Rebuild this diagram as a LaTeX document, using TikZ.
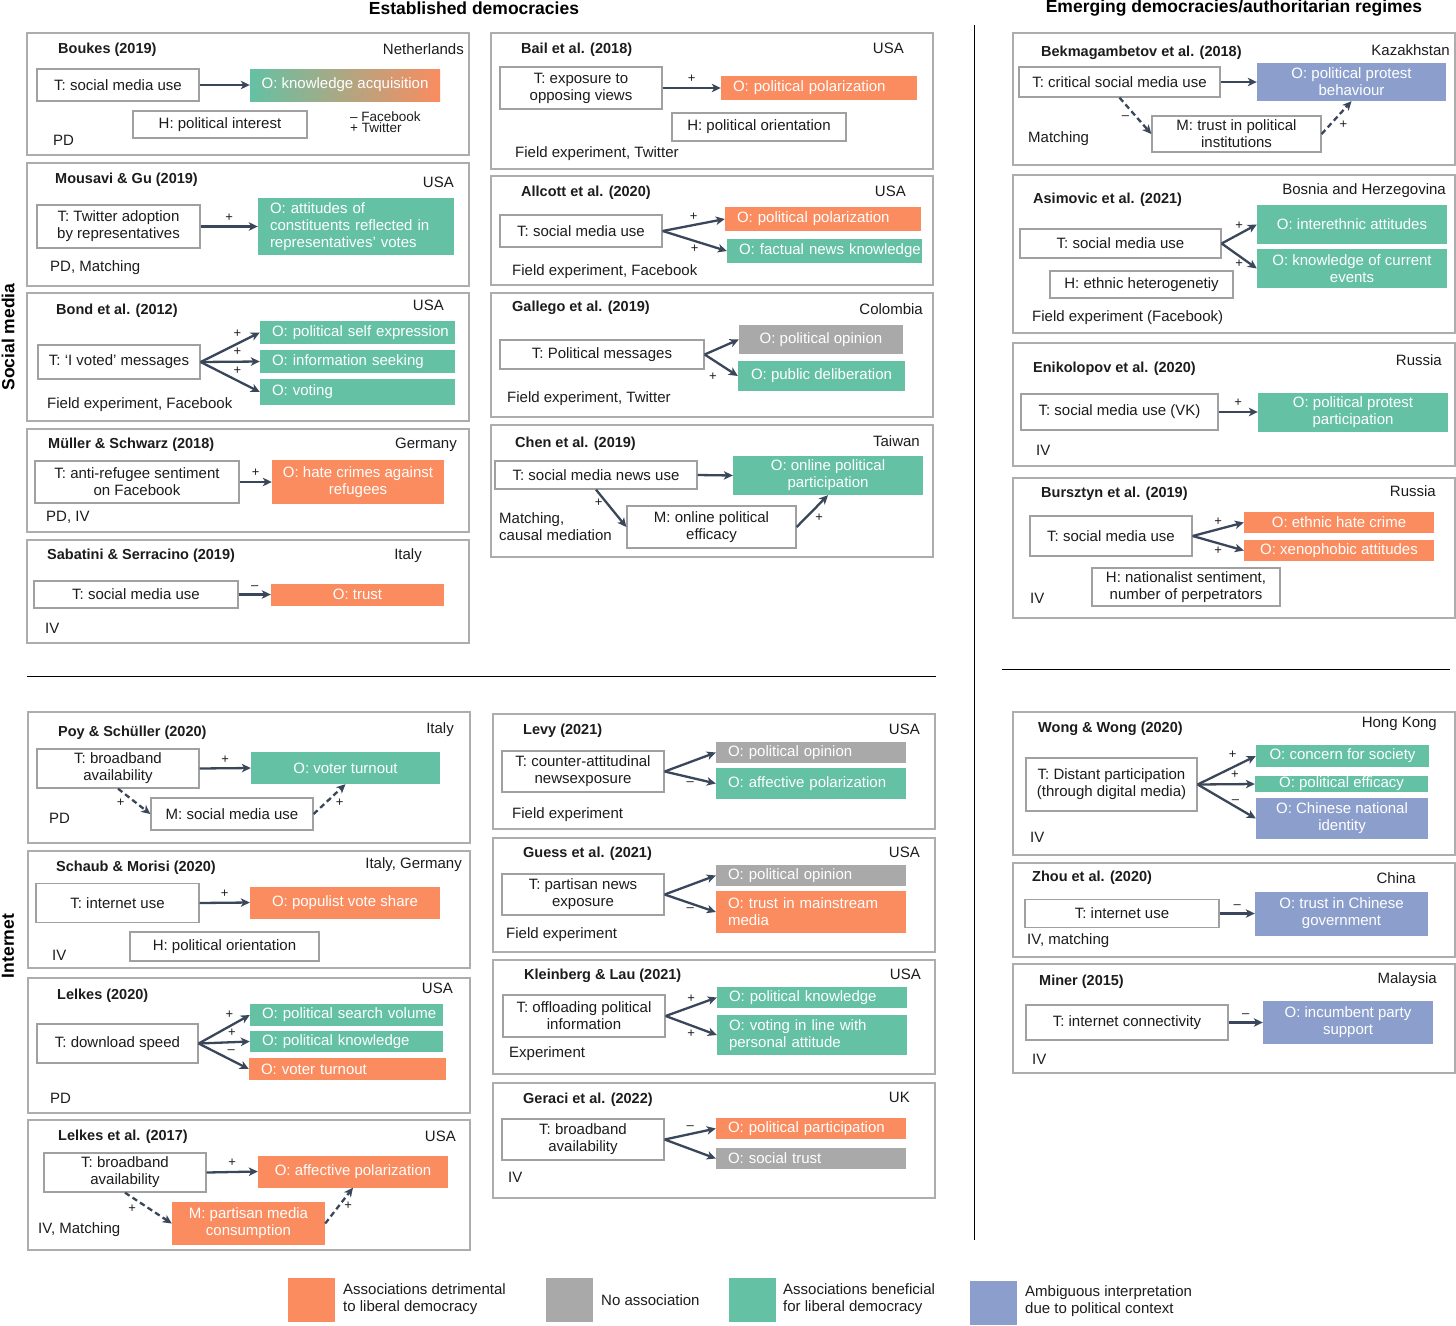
\documentclass[tikz,border=0pt]{standalone}
\usepackage{fontspec}
\setmainfont{Liberation Sans}
\usetikzlibrary{arrows.meta}

\definecolor{detrcol}{HTML}{FA8C60}
\definecolor{benecol}{HTML}{64C1A4}
\definecolor{ambicol}{HTML}{8C9FCC}
\definecolor{noascol}{HTML}{A9A9A9}
\definecolor{arrcol}{HTML}{3A4659}
\definecolor{panelgray}{HTML}{ADADAD}
\definecolor{boxgray}{HTML}{A0A0A0}
\definecolor{ink}{HTML}{1C1C1C}

\newcommand{\figfont}{\fontsize{15}{17}\selectfont}
\newcommand{\figbold}{\fontsize{14.5}{17}\selectfont\bfseries}
\newcommand{\headfont}{\fontsize{17.5}{19}\selectfont\bfseries}
\newcommand{\signfont}{\fontsize{13}{13}\selectfont}
\newcommand{\smallfig}{\fontsize{13.5}{11.5}\selectfont}

\begin{document}
\begin{tikzpicture}[x=1pt, y=-1pt, font=\figfont, text=ink,
  panel/.style={draw=panelgray, line width=1.4pt},
  rule/.style={draw=black, line width=1pt},
  head/.style={font=\headfont, text=black, inner sep=0pt},
  tbox/.style={draw=boxgray, line width=1.3pt, fill=white, align=center, inner sep=1pt},
  obox/.style={text=white, align=center, inner sep=0pt},
  detr/.style={obox, fill=detrcol},
  noas/.style={obox, fill=noascol},
  bene/.style={obox, fill=benecol},
  ambi/.style={obox, fill=ambicol},
  lft/.style={align=left, inner xsep=2pt, text width=#1,
    execute at begin node={\leftskip=10pt}},
  ttl/.style={font=\figbold, anchor=west, inner sep=0pt},
  ctry/.style={anchor=east, inner sep=0pt},
  meth/.style={anchor=west, inner sep=0pt, align=left},
  sgn/.style={font=\signfont, inner sep=1pt},
  key/.style={minimum width=47, minimum height=44, inner sep=0pt},
  arr/.style={draw=arrcol, line width=2.3pt, -{Stealth[length=9pt, width=8.5pt, inset=2.5pt]}},
  darr/.style={arr, dash pattern=on 5.5pt off 3.5pt}]

  \useasboundingbox (0,0) rectangle (1456,1325);

  % headers and section labels
  \node[head] (hdEst) at (474,8) {Established democracies};
  \node[head] (hdEmg) at (1234,8) {Emerging democracies/authoritarian regimes};
  \node[head, rotate=90] (secSM) at (8,337) {Social media};
  \node[head, rotate=90] (secNet) at (8,946) {Internet};
  \draw[rule] (974,25) -- (974,1240);
  \draw[rule] (27,676) -- (936,676);
  \draw[rule] (1002,669) -- (1450,669);

  % Boukes (2019)
  \draw[panel] (27,33) rectangle (469,155);
  \node[ttl] (bouN) at (58,50) {Boukes (2019)};
  \node[ctry] (bouC) at (464,49) {Netherlands};
  \node[tbox, minimum width=162, minimum height=32] (bouT) at (118,85) {T: social media use};
  \node[obox, left color=benecol, right color=detrcol, minimum width=190, minimum height=32] (bouO) at (345,85) {O: knowledge acquisition};
  \node[tbox, minimum width=174, minimum height=27] (bouH) at (220,124.5) {H: political interest};
  \node[meth, font=\smallfig] (bouP) at (350,122) {–~Facebook\\+~Twitter};
  \node[meth] (bouM) at (53,140) {PD};
  \path (bouT.east) edge[arr] (bouO.west);

  % Mousavi & Gu (2019)
  \draw[panel] (27,163) rectangle (469,286);
  \node[ttl] (mouN) at (55,180) {Mousavi \& Gu (2019)};
  \node[ctry] (mouC) at (454,182) {USA};
  \node[tbox, minimum width=163, minimum height=43] (mouT) at (118.5,226.5) {T: Twitter adoption\\by representatives};
  \node[bene, lft=192pt, minimum height=57] (mouO) at (356,226.5) {O: attitudes of\\constituents reflected in\\representatives’ votes};
  \node[meth] (mouM) at (50,268) {PD, Matching};
  \path (mouT.east) edge[arr] node[sgn, above=3pt] {+} (mouO.west);

  % Bond et al. (2012)
  \draw[panel] (27,293) rectangle (469,421);
  \node[ttl] (bonN) at (56,311) {Bond et al. (2012)};
  \node[ctry] (bonC) at (444,305) {USA};
  \node[tbox, minimum width=162, minimum height=34] (bonT) at (119,362) {T: ‘I voted’ messages};
  \node[bene, lft=191pt, minimum height=23] (bonO1) at (357.5,332.5) {\mbox{O: political self expression}};
  \node[bene, lft=191pt, minimum height=23] (bonO2) at (357.5,361.5) {O: information seeking};
  \node[bene, lft=191pt, minimum height=26] (bonO3) at (357.5,392) {O: voting};
  \node[meth] (bonM) at (47,405) {Field experiment, Facebook};
  \path (bonT.east) edge[arr] node[sgn, above=4pt, pos=.62] {+} (bonO1.west)
        (bonT.east) edge[arr] node[sgn, above=4pt, pos=.62] {+} (bonO2.west)
        (bonT.east) edge[arr] node[sgn, above=4pt, pos=.62] {+} (bonO3.west);

  % Mueller & Schwarz (2018)
  \draw[panel] (27,429) rectangle (469,532);
  \node[ttl] (mulN) at (48,445) {Müller \& Schwarz (2018)};
  \node[ctry] (mulC) at (457,445) {Germany};
  \node[tbox, minimum width=204, minimum height=42] (mulT) at (137,482) {T: anti-refugee sentiment\\on Facebook};
  \node[detr, minimum width=172, minimum height=44] (mulO) at (358,482) {O: hate crimes against\\refugees};
  \node[meth] (mulM) at (46,517) {PD, IV};
  \path (mulT.east) edge[arr] node[sgn, above=3pt] {+} (mulO.west);

  % Sabatini & Serracino (2019)
  \draw[panel] (27,540) rectangle (469,643);
  \node[ttl] (sabN) at (47,556) {Sabatini \& Serracino (2019)};
  \node[ctry] (sabC) at (422,556) {Italy};
  \node[tbox, minimum width=204, minimum height=27] (sabT) at (136,594.5) {T: social media use};
  \node[detr, minimum width=173, minimum height=22] (sabO) at (357.5,594.5) {O: trust};
  \node[meth] (sabM) at (45,628) {IV};
  \path (sabT.east) edge[arr] node[sgn, above=3pt] {–} (sabO.west);

  % Bail et al. (2018)
  \draw[panel] (491,33) rectangle (933,169);
  \node[ttl] (baiN) at (521,50) {Bail et al. (2018)};
  \node[ctry] (baiC) at (904,48) {USA};
  \node[tbox, minimum width=162, minimum height=42] (baiT) at (581,88) {T: exposure to\\opposing views};
  \node[detr, lft=192pt, minimum height=24] (baiO) at (819,88) {O: political polarization};
  \node[tbox, minimum width=174, minimum height=28] (baiH) at (759,127) {H: political orientation};
  \node[meth] (baiM) at (515,154) {Field experiment, Twitter};
  \path (baiT.east) edge[arr] node[sgn, above=3pt] {+} (baiO.west);

  % Allcott et al. (2020)
  \draw[panel] (491,176) rectangle (933,285);
  \node[ttl] (allN) at (521,193) {Allcott et al. (2020)};
  \node[ctry] (allC) at (906,191) {USA};
  \node[tbox, minimum width=162, minimum height=32] (allT) at (581,231) {T: social media use};
  \node[detr, lft=192pt, minimum height=24] (allO1) at (823,219) {O: political polarization};
  \node[bene, lft=191pt, minimum height=24] (allO2) at (824.5,251) {\mbox{O: factual news knowledge}};
  \node[meth] (allM) at (512,272) {Field experiment, Facebook};
  \path (allT.east) edge[arr] node[sgn, above=2pt] {+} (allO1.west)
        (allT.east) edge[arr] node[sgn, below=2pt] {+} (allO2.west);

  % Gallego et al. (2019)
  \draw[panel] (491,293) rectangle (933,417);
  \node[ttl] (galN) at (512,308) {Gallego et al. (2019)};
  \node[ctry] (galC) at (923,309) {Colombia};
  \node[tbox, minimum width=204, minimum height=29] (galT) at (602,354.5) {T: Political messages};
  \node[noas, minimum width=164, minimum height=29] (galO1) at (821,339.5) {O: political opinion};
  \node[bene, minimum width=167, minimum height=30] (galO2) at (821.5,376) {O: public deliberation};
  \node[meth] (galM) at (507,399) {Field experiment, Twitter};
  \path (galT.east) edge[arr] (galO1.west)
        (galT.east) edge[arr] node[sgn, below=11pt, pos=.25] {+} (galO2.west);

  % Chen et al. (2019)
  \draw[panel] (491,425) rectangle (933,557);
  \node[ttl] (cheN) at (515,444) {Chen et al. (2019)};
  \node[ctry] (cheC) at (920,441) {Taiwan};
  \node[tbox, minimum width=202, minimum height=28] (cheT) at (596,475) {T: social media news use};
  \node[bene, minimum width=190, minimum height=39] (cheO) at (828,475.5) {O: online political\\participation};
  \node[tbox, minimum width=169, minimum height=42] (cheMd) at (711.5,527) {M: online political\\efficacy};
  \node[meth] (cheM) at (499,526.5) {Matching,\\causal mediation};
  \path (cheT.east) edge[arr] (cheO.west)
        (cheT.south) edge[arr] node[sgn, left=2pt, pos=.35] {+} (cheMd.west)
        (cheMd.east) edge[arr] node[sgn, below right=1pt, pos=.5] {+} (cheO.south);

  % Bekmagambetov et al. (2018)
  \draw[panel] (1013,33) rectangle (1455,165);
  \node[ttl] (bekN) at (1041,53) {Bekmagambetov et al. (2018)};
  \node[ctry] (bekC) at (1450,50) {Kazakhstan};
  \node[tbox, minimum width=201, minimum height=30] (bekT) at (1119.5,82) {T: critical social media use};
  \node[ambi, minimum width=189, minimum height=38] (bekO) at (1351.5,82) {O: political protest\\behaviour};
  \node[tbox, minimum width=169, minimum height=36] (bekMd) at (1236.5,134) {M: trust in political\\institutions};
  \node[meth] (bekM) at (1028,139) {Matching};
  \path (bekT.east) edge[arr] (bekO.west)
        (bekT.south) edge[darr] node[sgn, below left=1pt, pos=.4] {–} (bekMd.west)
        (bekMd.east) edge[darr] node[sgn, below right=1pt, pos=.5] {+} (bekO.south);

  % Asimovic et al. (2021)
  \draw[panel] (1013,175) rectangle (1455,333);
  \node[ttl] (asiN) at (1033,200) {Asimovic et al. (2021)};
  \node[ctry] (asiC) at (1446,191) {Bosnia and Herzegovina};
  \node[tbox, minimum width=201, minimum height=29] (asiT) at (1120.5,243.5) {T: social media use};
  \node[bene, minimum width=190, minimum height=39] (asiO1) at (1352,224.5) {O: interethnic attitudes};
  \node[bene, minimum width=190, minimum height=39] (asiO2) at (1352,268.5) {O: knowledge of current\\events};
  \node[tbox, minimum width=183, minimum height=27] (asiH) at (1141.5,284.5) {H: ethnic heterogenetiy};
  \node[meth] (asiM) at (1032,318) {Field experiment (Facebook)};
  \path (asiT.east) edge[arr] node[sgn, above=2pt] {+} (asiO1.west)
        (asiT.east) edge[arr] node[sgn, below=2pt] {+} (asiO2.west);

  % Enikolopov et al. (2020)
  \draw[panel] (1013,343) rectangle (1455,466);
  \node[ttl] (eniN) at (1033,369) {Enikolopov et al. (2020)};
  \node[ctry] (eniC) at (1442,360) {Russia};
  \node[tbox, minimum width=197, minimum height=36] (eniT) at (1119.5,412) {T: social media use (VK)};
  \node[bene, minimum width=190, minimum height=39] (eniO) at (1353,412) {O: political protest\\participation};
  \node[meth] (eniM) at (1036,450) {IV};
  \path (eniT.east) edge[arr] node[sgn, above=3pt] {+} (eniO.west);

  % Bursztyn et al. (2019)
  \draw[panel] (1013,478) rectangle (1455,618);
  \node[ttl] (burN) at (1041,494) {Bursztyn et al. (2019)};
  \node[ctry] (burC) at (1436,491) {Russia};
  \node[tbox, minimum width=162, minimum height=40] (burT) at (1111,536) {T: social media use};
  \node[detr, minimum width=190, minimum height=21] (burO1) at (1339,522.5) {O: ethnic hate crime};
  \node[detr, minimum width=190, minimum height=21] (burO2) at (1339,550.5) {O: xenophobic attitudes};
  \node[tbox, minimum width=188, minimum height=38] (burH) at (1186,587) {H: nationalist sentiment,\\number of perpetrators};
  \node[meth] (burM) at (1030,598) {IV};
  \path (burT.east) edge[arr] node[sgn, above=2pt] {+} (burO1.west)
        (burT.east) edge[arr] node[sgn, below=2pt] {+} (burO2.west);

  % Poy & Schueller (2020)
  \draw[panel] (28,712) rectangle (470,843);
  \node[ttl] (poyN) at (58,733) {Poy \& Schüller (2020)};
  \node[ctry] (poyC) at (454,730) {Italy};
  \node[tbox, minimum width=162, minimum height=39] (poyT) at (118,768.5) {T: broadband\\availability};
  \node[bene, minimum width=189, minimum height=32] (poyO) at (345.5,768) {O: voter turnout};
  \node[tbox, minimum width=162, minimum height=32] (poyMd) at (232,814) {M: social media use};
  \node[meth] (poyM) at (49,818) {PD};
  \path (poyT.east) edge[arr] node[sgn, above=3pt] {+} (poyO.west)
        (poyT.south) edge[darr] node[sgn, below left=1pt, pos=.3] {+} (poyMd.west)
        (poyMd.east) edge[darr] node[sgn, below right=1pt, pos=.6] {+} (poyO.south);

  % Schaub & Morisi (2020)
  \draw[panel] (28,851) rectangle (470,968);
  \node[ttl] (schN) at (56,868) {Schaub \& Morisi (2020)};
  \node[ctry] (schC) at (462,865) {Italy, Germany};
  \node[tbox, minimum width=163, minimum height=39] (schT) at (117.5,903) {T: internet use};
  \node[detr, minimum width=190, minimum height=32] (schO) at (345,902.5) {O: populist vote share};
  \node[tbox, minimum width=189, minimum height=29] (schH) at (224.5,946.5) {H: political orientation};
  \node[meth] (schM) at (52,955) {IV};
  \path (schT.east) edge[arr] node[sgn, above=3pt] {+} (schO.west);

  % Lelkes (2020)
  \draw[panel] (28,978) rectangle (470,1113);
  \node[ttl] (le2N) at (57,996) {Lelkes (2020)};
  \node[ctry] (le2C) at (453,988) {USA};
  \node[tbox, minimum width=161, minimum height=39] (le2T) at (117.5,1043.5) {T: download speed};
  \node[bene, lft=189pt, minimum height=22] (le2O1) at (346.5,1015) {\mbox{O: political search volume}};
  \node[bene, lft=189pt, minimum height=21] (le2O2) at (346.5,1041.5) {O: political knowledge};
  \node[detr, lft=193pt, minimum height=22] (le2O3) at (347.5,1069) {O: voter turnout};
  \node[meth] (le2M) at (50,1098) {PD};
  \path (le2T.east) edge[arr] node[sgn, above=6pt, pos=.6] {+} (le2O1.west)
        (le2T.east) edge[arr] node[sgn, above=4pt, pos=.65] {+} (le2O2.west)
        (le2T.east) edge[arr] node[sgn, above=4pt, pos=.65] {–} (le2O3.west);

  % Lelkes et al. (2017)
  \draw[panel] (28,1120) rectangle (470,1250);
  \node[ttl] (le7N) at (58,1137) {Lelkes et al. (2017)};
  \node[ctry] (le7C) at (456,1136) {USA};
  \node[tbox, minimum width=162, minimum height=39] (le7T) at (125,1172.5) {T: broadband\\availability};
  \node[detr, minimum width=190, minimum height=32] (le7O) at (353,1171.5) {O: affective polarization};
  \node[detr, minimum width=153, minimum height=43] (le7Md) at (248.5,1223.5) {M: partisan media\\consumption};
  \node[meth] (le7M) at (38,1230) {IV, Matching};
  \path (le7T.east) edge[arr] node[sgn, above=3pt] {+} (le7O.west)
        (le7T.south) edge[darr] node[sgn, below left=1pt, pos=.3] {+} (le7Md.west)
        (le7Md.east) edge[darr] node[sgn, right=3pt, pos=.5] {+} (le7O.south);

  % Levy (2021)
  \draw[panel] (493,714) rectangle (935,829);
  \node[ttl] (levN) at (523,731) {Levy (2021)};
  \node[ctry] (levC) at (920,729) {USA};
  \node[tbox, minimum width=162, minimum height=41] (levT) at (583,771.5) {T: counter-attitudinal\\newsexposure};
  \node[noas, lft=186pt, minimum height=21] (levO1) at (811,752.5) {O: political opinion};
  \node[bene, lft=186pt, minimum height=31] (levO2) at (811,783.5) {O: affective polarization};
  \node[meth] (levM) at (512,815) {Field experiment};
  \path (levT.east) edge[arr] (levO1.west)
        (levT.east) edge[arr] node[sgn, below=2pt] {–} (levO2.west);

  % Guess et al. (2021)
  \draw[panel] (493,838) rectangle (935,952);
  \node[ttl] (gueN) at (523,854) {Guess et al. (2021)};
  \node[ctry] (gueC) at (920,852) {USA};
  \node[tbox, minimum width=162, minimum height=41] (gueT) at (583,894.5) {T: partisan news\\exposure};
  \node[noas, lft=186pt, minimum height=21] (gueO1) at (811,875.5) {O: political opinion};
  \node[detr, lft=186pt, minimum height=42] (gueO2) at (811,912) {O: trust in mainstream\\media};
  \node[meth] (gueM) at (506,935) {Field experiment};
  \path (gueT.east) edge[arr] (gueO1.west)
        (gueT.east) edge[arr] node[sgn, below=2pt] {–} (gueO2.west);

  % Kleinberg & Lau (2021)
  \draw[panel] (493,960) rectangle (935,1074);
  \node[ttl] (kleN) at (524,976) {Kleinberg \& Lau (2021)};
  \node[ctry] (kleC) at (921,974) {USA};
  \node[tbox, minimum width=162, minimum height=42] (kleT) at (584,1016) {T: offloading political\\information};
  \node[bene, lft=186pt, minimum height=21] (kleO1) at (812,997.5) {O: political knowledge};
  \node[bene, lft=186pt, minimum height=40] (kleO2) at (812,1035) {O: voting in line with\\personal attitude};
  \node[meth] (kleM) at (509,1054) {Experiment};
  \path (kleT.east) edge[arr] node[sgn, above=2pt] {+} (kleO1.west)
        (kleT.east) edge[arr] node[sgn, below=2pt] {+} (kleO2.west);

  % Geraci et al. (2022)
  \draw[panel] (493,1083) rectangle (935,1198);
  \node[ttl] (gerN) at (523,1100) {Geraci et al. (2022)};
  \node[ctry] (gerC) at (910,1097) {UK};
  \node[tbox, minimum width=162, minimum height=41] (gerT) at (583,1139.5) {T: broadband\\availability};
  \node[detr, lft=186pt, minimum height=21] (gerO1) at (811,1128.5) {O: political participation};
  \node[noas, lft=186pt, minimum height=21] (gerO2) at (811,1158.5) {O: social trust};
  \node[meth] (gerM) at (508,1177) {IV};
  \path (gerT.east) edge[arr] node[sgn, above=2pt] {–} (gerO1.west)
        (gerT.east) edge[arr] (gerO2.west);

  % Wong & Wong (2020)
  \draw[panel] (1013,712) rectangle (1455,855);
  \node[ttl] (wonN) at (1038,729) {Wong \& Wong (2020)};
  \node[ctry] (wonC) at (1437,724) {Hong Kong};
  \node[tbox, minimum width=171, minimum height=53] (wonT) at (1111.5,784.5) {T: Distant participation\\(through digital media)};
  \node[bene, minimum width=173, minimum height=22] (wonO1) at (1342.5,756) {O: concern for society};
  \node[bene, minimum width=173, minimum height=16] (wonO2) at (1341.5,784) {O: political efficacy};
  \node[ambi, minimum width=172, minimum height=41] (wonO3) at (1342,818.5) {O: Chinese national\\identity};
  \node[meth] (wonM) at (1030,837) {IV};
  \path (wonT.east) edge[arr] node[sgn, above=7pt, pos=.6] {+} (wonO1.west)
        (wonT.east) edge[arr] node[sgn, above=4pt, pos=.65] {+} (wonO2.west)
        (wonT.east) edge[arr] node[sgn, above=1pt, pos=.65] {–} (wonO3.west);

  % Zhou et al. (2020)
  \draw[panel] (1013,863) rectangle (1455,957);
  \node[ttl] (zhoN) at (1032,878) {Zhou et al. (2020)};
  \node[ctry] (zhoC) at (1416,878) {China};
  \node[tbox, minimum width=194, minimum height=28] (zhoT) at (1122,913.5) {T: internet use};
  \node[ambi, minimum width=173, minimum height=44] (zhoO) at (1341.5,913.5) {O: trust in Chinese\\government};
  \node[meth] (zhoM) at (1027,941) {IV, matching};
  \path (zhoT.east) edge[arr] node[sgn, above=3pt] {–} (zhoO.west);

  % Miner (2015)
  \draw[panel] (1013,964) rectangle (1455,1073);
  \node[ttl] (minN) at (1039,982) {Miner (2015)};
  \node[ctry] (minC) at (1437,980) {Malaysia};
  \node[tbox, minimum width=202, minimum height=35] (minT) at (1127,1022.5) {T: internet connectivity};
  \node[ambi, minimum width=170, minimum height=43] (minO) at (1348,1022.5) {O: incumbent party\\support};
  \node[meth] (minM) at (1032,1059) {IV};
  \path (minT.east) edge[arr] node[sgn, above=3pt] {–} (minO.west);

  % legend
  \node[key, fill=detrcol] (keyDetr) at (311.5,1300) {};
  \node[meth] (keyDetrT) at (343,1299) {Associations detrimental\\to liberal democracy};
  \node[key, fill=noascol] (keyNoas) at (569,1300) {};
  \node[meth] (keyNoasT) at (601,1300) {No association};
  \node[key, fill=benecol] (keyBene) at (752.5,1300) {};
  \node[meth] (keyBeneT) at (783,1299) {Associations beneficial\\for liberal democracy};
  \node[key, fill=ambicol] (keyAmbi) at (993.5,1302.5) {};
  \node[meth] (keyAmbiT) at (1025,1301) {Ambiguous interpretation\\due to political context};
\end{tikzpicture}
\end{document}
